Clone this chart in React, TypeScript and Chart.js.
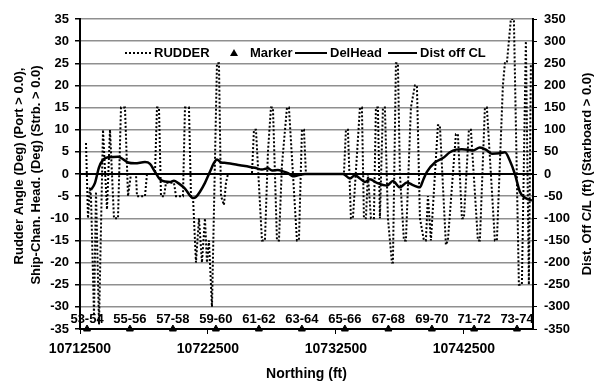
import React, { useEffect, useRef } from 'react';
import { Chart, registerables } from 'chart.js';

Chart.register(...registerables);

const xTickValues = [10712500, 10722500, 10732500, 10742500];
const xMin = 10712500;
const xMax = 10747900;

const rudderNorthing = [
  10712969, 10713125, 10713281, 10713359, 10713594, 10713750, 10713984, 10714297, 10714609, 10714844,
  10715156, 10715469, 10715703, 10716016, 10716250, 10716484, 10716875, 10716953, 10717578, 10717734,
  10718359, 10718516, 10718672, 10718828, 10719063, 10719219, 10719844, 10720000, 10720547, 10720703,
  10721016, 10721172, 10721328, 10721563, 10721797, 10722031, 10722266, 10722422, 10722578, 10722813,
  10723203, 10723359, 10723516, 10723750, 10723906, 10724063, 10725938, 10726094, 10726250, 10726719,
  10726953, 10727188, 10727422, 10727578, 10727891, 10728047, 10728281, 10728672, 10728828, 10729453,
  10729609, 10729844, 10730000, 10730156, 10733125, 10733281, 10733438, 10733672, 10733828, 10734375,
  10734531, 10734688, 10734844, 10735000, 10735234, 10735469, 10735625, 10735781, 10735938, 10736172,
  10736328, 10736563, 10736875, 10736953, 10737188, 10737344, 10737500, 10737813, 10737969, 10738359,
  10738672, 10738828, 10739063, 10739375, 10739531, 10739688, 10739922, 10740469, 10740625, 10741094,
  10741250, 10741875, 10742031, 10742344, 10742500, 10742891, 10743047, 10743594, 10743750, 10744141,
  10744297, 10744922, 10745078, 10745547, 10745703, 10745859, 10746172, 10746406, 10746797, 10747031,
  10747344, 10747578, 10747734,
];
const rudderAngle = [
  7, -10, -3, -5, -32, -4, -34, 10, -8, 10,
  -10, -10, 15, 15, -5, 0, 0, -5, -5, 0,
  0, 15, 15, -5, -5, -2, -2, -5, -5, 15,
  15, -5, -5, -20, -10, -20, -10, -20, -15, -30,
  25, 25, -5, -7, -2, 0, 0, 10, 10, -15,
  -15, 5, 15, 15, -15, -15, 2, 15, 15, -15,
  -15, 10, 10, 0, 0, 10, 10, -10, -10, 15,
  15, -10, -10, 0, -10, -10, 15, 15, -10, 15,
  15, -10, -20, -20, 25, 25, 0, -15, -15, 15,
  20, 20, -10, -15, -15, -5, -15, 11, 11, -16,
  -15, 9, 9, -10, -10, 10, 10, -15, -15, 15,
  15, -15, -15, 20, 25, 25, 35, 35, -25, -25,
  30, -25, 25,
];

const distNorthing = [
  10713359, 10713672, 10713984, 10714297, 10714688, 10715469, 10715781, 10716250, 10716797, 10717578,
  10717969, 10718359, 10718828, 10719531, 10719844, 10720156, 10720703, 10721328, 10721563, 10721875,
  10722266, 10722656, 10722969, 10723203, 10723516, 10723906, 10725000, 10726172, 10726719, 10727188,
  10727500, 10727969, 10728359, 10728750, 10729141, 10729531, 10730078, 10733047, 10733594, 10733984,
  10734375, 10734766, 10735156, 10735703, 10736484, 10736953, 10737500, 10738047, 10738516, 10739063,
  10739297, 10739609, 10740234, 10740859, 10741406, 10741875, 10742344, 10742813, 10743203, 10743750,
  10744219, 10744688, 10745313, 10745703, 10746094, 10746484, 10746875, 10747188, 10747813,
];
const distOffCL = [
  -36, -20, 15, 32, 38, 39, 35, 26, 24, 27,
  23, 5, -14, -18, -15, -20, -33, -54, -52, -40,
  -20, 5, 25, 33, 26, 25, 20, 14, 10, 13,
  8, 9, 6, 2, -5, -3, 0, 0, -10, -3,
  -10, -18, -12, -20, -26, -16, -30, -19, -25, -30,
  -15, 5, 26, 36, 49, 55, 56, 55, 53, 60,
  55, 46, 47, 49, 30, 0, -40, -52, -60,
];

const delHeadNorthing = [10712500, 10722500, 10732500, 10742500, 10747900];
const delHead = [0, 0, 0, 0, 0];

const markerNorthing = [
  10713050, 10716400, 10719760, 10723120, 10726480, 10729840, 10733200, 10736600, 10740000, 10743300, 10746650,
];
const markerLabels = ['53-54', '55-56', '57-58', '59-60', '61-62', '63-64', '65-66', '67-68', '69-70', '71-72', '73-74'];
const markerLevel = -35;

const FONT = '"Liberation Sans", Arial, Helvetica, sans-serif';

const zip = (xs: number[], ys: number[]) => xs.map((x, i) => ({ x, y: ys[i] }));

const overlayPlugin = {
  id: 'overlay',
  afterDatasetsDraw(chart: any) {
    const { ctx, chartArea } = chart;
    ctx.save();
    // marker labels
    const meta = chart.getDatasetMeta(3);
    ctx.font = `bold 13px ${FONT}`;
    ctx.fillStyle = '#000';
    ctx.textAlign = 'center';
    ctx.textBaseline = 'middle';
    meta.data.forEach((pt: any, i: number) => {
      ctx.fillText(markerLabels[i], pt.x, pt.y - 10);
    });

    // legend
    const L = chartArea.left;
    const ly = chartArea.top + 34;
    ctx.textAlign = 'left';
    ctx.strokeStyle = '#000';
    ctx.lineWidth = 2;
    ctx.setLineDash([2, 2]);
    ctx.beginPath();
    ctx.moveTo(L + 45, ly);
    ctx.lineTo(L + 72, ly);
    ctx.stroke();
    ctx.setLineDash([]);
    ctx.fillText('RUDDER', L + 74, ly);
    // triangle
    const tx = L + 154;
    ctx.beginPath();
    ctx.moveTo(tx, ly - 4);
    ctx.lineTo(tx + 4, ly + 3);
    ctx.lineTo(tx - 4, ly + 3);
    ctx.closePath();
    ctx.fill();
    ctx.fillText('Marker', L + 170, ly);
    ctx.beginPath();
    ctx.moveTo(L + 215, ly);
    ctx.lineTo(L + 247, ly);
    ctx.stroke();
    ctx.fillText('DelHead', L + 250, ly);
    ctx.beginPath();
    ctx.moveTo(L + 308, ly);
    ctx.lineTo(L + 337, ly);
    ctx.stroke();
    ctx.fillText('Dist off CL', L + 340, ly);
    ctx.restore();
  },
  afterDraw(chart: any) {
    const { ctx, chartArea } = chart;
    ctx.save();
    ctx.fillStyle = '#000';
    ctx.textAlign = 'center';
    ctx.textBaseline = 'middle';
    ctx.font = `bold 13px ${FONT}`;
    const cy = (chartArea.top + chartArea.bottom) / 2;
    const drawRot = (text: string, x: number, y: number) => {
      ctx.save();
      ctx.translate(x, y);
      ctx.rotate(-Math.PI / 2);
      ctx.fillText(text, 0, 0);
      ctx.restore();
    };
    drawRot('Rudder Angle (Deg) (Port > 0.0),', 19, cy - 8);
    drawRot('Ship-Chan. Head. (Deg) (Strb. > 0.0)', 36, cy + 1);
    drawRot('Dist. Off C/L (ft) (Starboard > 0.0)', 587, cy);
    ctx.font = `bold 14px ${FONT}`;
    ctx.fillText('Northing (ft)', (chartArea.left + chartArea.right) / 2, 374);
    ctx.restore();
  },
};

export default function App() {
  const canvasRef = useRef<HTMLCanvasElement | null>(null);

  useEffect(() => {
    document.body.style.margin = '0';
    const canvas = canvasRef.current;
    if (!canvas) return;
    const chart = new Chart(canvas, {
      type: 'line',
      data: {
        datasets: [
          {
            label: 'RUDDER',
            data: zip(rudderNorthing, rudderAngle),
            borderColor: '#000',
            borderWidth: 2,
            borderDash: [2, 2],
            pointRadius: 0,
            tension: 0,
            yAxisID: 'y',
          },
          {
            label: 'DelHead',
            data: zip(delHeadNorthing, delHead),
            borderColor: '#000',
            borderWidth: 2,
            pointRadius: 0,
            tension: 0,
            yAxisID: 'y',
          },
          {
            label: 'Dist off CL',
            data: zip(distNorthing, distOffCL),
            borderColor: '#000',
            borderWidth: 2.5,
            pointRadius: 0,
            tension: 0.4,
            cubicInterpolationMode: 'monotone',
            yAxisID: 'y2',
          },
          {
            label: 'Marker',
            data: markerNorthing.map((x) => ({ x, y: markerLevel })),
            showLine: false,
            pointStyle: 'triangle',
            pointRadius: 4,
            backgroundColor: '#000',
            borderColor: '#000',
            borderWidth: 1,
            clip: false,
            yAxisID: 'y',
          },
        ] as any,
      },
      options: {
        animation: false,
        responsive: false,
        maintainAspectRatio: false,
        layout: { padding: { top: 19, left: 0, right: 0, bottom: 0 } },
        plugins: { legend: { display: false }, tooltip: { enabled: false } },
        font: { family: FONT },
        scales: {
          x: {
            type: 'linear',
            min: xMin,
            max: xMax,
            afterBuildTicks: (scale: any) => {
              scale.ticks = xTickValues.map((v) => ({ value: v }));
            },
            afterFit: (scale: any) => {
              scale.height = 56;
            },
            grid: { drawOnChartArea: false, drawTicks: true, tickLength: 5, color: '#000' },
            border: { display: true, color: '#000', width: 2 },
            ticks: {
              color: '#000',
              padding: 7,
              maxRotation: 0,
              autoSkip: false,
              font: { family: FONT, size: 14, weight: 'bold' },
              callback: (v: any) => String(v),
            },
          },
          y: {
            type: 'linear',
            position: 'left',
            min: -35,
            max: 35,
            afterFit: (scale: any) => {
              scale.width = 80;
            },
            grid: { color: '#8f8f8f', lineWidth: 1.5, tickLength: 5, tickColor: '#000' },
            border: { display: true, color: '#000', width: 2 },
            ticks: {
              stepSize: 5,
              color: '#000',
              padding: 6,
              font: { family: FONT, size: 13, weight: 'bold' },
            },
          },
          y2: {
            type: 'linear',
            position: 'right',
            min: -350,
            max: 350,
            afterFit: (scale: any) => {
              scale.width = 67;
            },
            grid: { drawOnChartArea: false, tickLength: 4, color: '#000' },
            border: { display: true, color: '#000', width: 2 },
            ticks: {
              stepSize: 50,
              color: '#000',
              padding: 7,
              font: { family: FONT, size: 13, weight: 'bold' },
            },
          },
        },
      } as any,
      plugins: [overlayPlugin],
    });
    return () => chart.destroy();
  }, []);

  return (
    <div style={{ width: 600, height: 385, background: '#fff' }}>
      <canvas ref={canvasRef} width={600} height={385} style={{ display: 'block' }} />
    </div>
  );
}
